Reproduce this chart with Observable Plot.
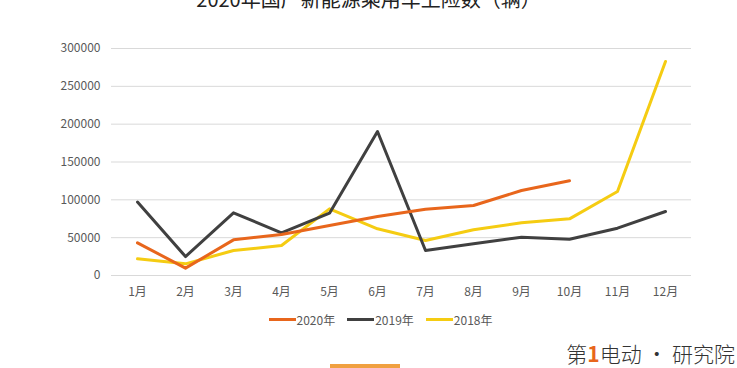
<!DOCTYPE html>
<html>
<head>
<meta charset="utf-8">
<script src="https://cdn.jsdelivr.net/npm/d3@7"></script>
<script src="https://cdn.jsdelivr.net/npm/@observablehq/plot@0.6"></script>
<style>
  html, body { margin: 0; padding: 0; background: #fff; overflow: hidden; }
  body { width: 737px; height: 368px; position: relative; font-family: "Noto Sans CJK SC", "Microsoft YaHei", sans-serif; }
  #title { position: absolute; top: -16px; left: 0; width: 737px; text-align: center; font-size: 20px; color: #222; white-space: nowrap; }
  #chart { position: absolute; top: 0; left: 0; }
  #legend { position: absolute; top: 311px; left: 0; width: 737px; display: flex; justify-content: center; gap: 12px; font-size: 12px; color: #595959; padding-left: 24px; box-sizing: border-box; }
  #legend span.item { display: flex; align-items: center; }
  #legend span.sw { display: inline-block; width: 27px; height: 3px; margin-right: 1px; }
  #brand { position: absolute; top: 338px; right: 2px; font-size: 21px; color: #333; font-weight: 300; }
  #brand b { color: #e8661c; font-weight: 700; }
  #bar { position: absolute; top: 364px; left: 330px; width: 70px; height: 4px; background: #f0a040; }
</style>
</head>
<body>
<div id="title">2020年国产新能源乘用车上险数（辆）</div>
<div id="chart"></div>
<div id="legend"></div>
<div id="brand">第<b>1</b>电动 · 研究院</div>
<div id="bar"></div>
<script>
const months = ["1月","2月","3月","4月","5月","6月","7月","8月","9月","10月","11月","12月"];
const series = ["2020年","2019年","2018年"];
const colors = ["#e8661c","#404040","#f5cc12"];
const v2020 = [43200, 9700, 47100, 54200, 66000, 78000, 87600, 92500, 112300, 125100];
const v2019 = [97000, 25000, 82800, 56400, 82400, 190300, 33000, 41900, 50600, 48000, 62500, 84600];
const v2018 = [22000, 15400, 33000, 39600, 88100, 61700, 46300, 60400, 69600, 74900, 111000, 282800];
const yTicks = [0, 50000, 100000, 150000, 200000, 250000, 300000];

const data = [];
[[series[0], v2020], [series[1], v2019], [series[2], v2018]].forEach(([s, arr]) => {
  arr.forEach((v, i) => data.push({ series: s, month: months[i], value: v }));
});

const chart = Plot.plot({
  width: 737,
  height: 310,
  marginTop: 48,
  marginBottom: 35,
  marginLeft: 111,
  marginRight: 46,
  style: { fontFamily: "'Noto Sans CJK SC', sans-serif", fontSize: "12px", color: "#595959", background: "transparent" },
  x: { type: "band", domain: months, padding: 0, label: null, tickSize: 0, tickPadding: 12 },
  y: { domain: [0, 300000], ticks: yTicks, label: null, tickSize: 0, tickPadding: 11, tickFormat: d => String(d) },
  color: { domain: series, range: colors },
  marks: [
    Plot.gridY(yTicks, { stroke: "#d9d9d9", strokeOpacity: 1, strokeWidth: 1 }),
    Plot.line(data.filter(d => d.series === series[2]), { x: "month", y: "value", stroke: "series", strokeWidth: 3, curve: "linear" }),
    Plot.line(data.filter(d => d.series === series[1]), { x: "month", y: "value", stroke: "series", strokeWidth: 3, curve: "linear" }),
    Plot.line(data.filter(d => d.series === series[0]), { x: "month", y: "value", stroke: "series", strokeWidth: 3, curve: "linear" })
  ]
});
document.getElementById("chart").appendChild(chart);

const legend = document.getElementById("legend");
series.forEach((s, i) => {
  const item = document.createElement("span");
  item.className = "item";
  const sw = document.createElement("span");
  sw.className = "sw";
  sw.style.background = colors[i];
  item.appendChild(sw);
  item.appendChild(document.createTextNode(s));
  legend.appendChild(item);
});
</script>
</body>
</html>
